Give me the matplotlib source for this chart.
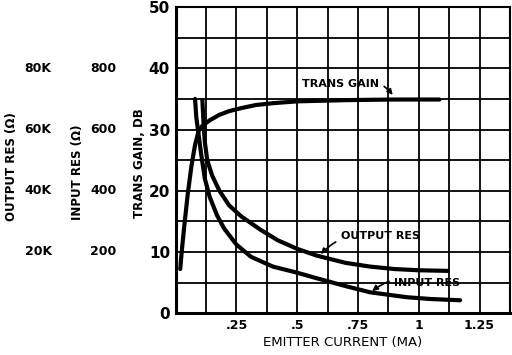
import matplotlib
matplotlib.use('Agg')
import matplotlib.pyplot as plt
import numpy as np

# values (emitter current in MA, plotted on the DB scale)
gain_x = [0.019, 0.025, 0.035, 0.05, 0.065, 0.08, 0.095, 0.11, 0.14, 0.18, 0.22, 0.27,
          0.33, 0.4, 0.5, 0.7, 0.9, 1.085]
gain_y = [7.2, 10, 14, 19.5, 24, 27.5, 29.8, 30.6, 31.5, 32.4, 33, 33.5,
          34, 34.3, 34.6, 34.8, 34.9, 34.9]

inres_x = [0.08, 0.085, 0.095, 0.105, 0.12, 0.14, 0.17, 0.2, 0.25, 0.31, 0.4, 0.5,
           0.58, 0.7, 0.8, 0.95, 1.05, 1.17]
inres_y = [35, 32, 29, 26, 22, 19, 16, 13.8, 11.2, 9.2, 7.6, 6.6,
           5.7, 4.4, 3.4, 2.6, 2.3, 2.1]

outres_x = [0.11, 0.115, 0.12, 0.13, 0.15, 0.18, 0.22, 0.27, 0.35, 0.42, 0.5, 0.58,
            0.7, 0.8, 0.9, 1.0, 1.12]
outres_y = [34.8, 31, 28, 25, 22.5, 20, 17.6, 15.8, 13.6, 11.9, 10.5, 9.4,
            8.2, 7.6, 7.2, 7.0, 6.9]

x_ticks = [0.25, 0.5, 0.75, 1.0, 1.25]
x_labels = ['.25', '.5', '.75', '1', '1.25']
y_ticks = [0, 10, 20, 30, 40, 50]
in_res_labels = ['200', '400', '600', '800']
out_res_labels = ['20K', '40K', '60K', '80K']

plt.rcParams['font.family'] = ['DejaVu Sans']
plt.rcParams['font.weight'] = 'bold'

fig = plt.figure(figsize=(5.12, 3.55), dpi=100)
ax = fig.add_axes([0.343, 0.118, 0.653, 0.862])

ax.set_xlim(0, 1.375)
ax.set_ylim(0, 50)
ax.set_xticks(np.arange(0, 1.376, 0.125), minor=True)
ax.set_yticks(np.arange(0, 51, 5), minor=True)
ax.set_xticks(x_ticks)
ax.set_xticklabels(x_labels, fontsize=9)
ax.set_yticks(y_ticks)
ax.set_yticklabels([str(v) for v in y_ticks], fontsize=11)
ax.grid(which='both', color='black', lw=1.3)
ax.set_axisbelow(True)
ax.tick_params(which='both', length=0, pad=4)
for s in ax.spines.values():
    s.set_linewidth(1.5)
ax.spines['left'].set_linewidth(2.2)
ax.spines['bottom'].set_linewidth(2.2)

ax.plot(gain_x, gain_y, color='black', lw=3, solid_capstyle='round', solid_joinstyle='round')
ax.plot(inres_x, inres_y, color='black', lw=3, solid_capstyle='round', solid_joinstyle='round')
ax.plot(outres_x, outres_y, color='black', lw=3, solid_capstyle='round', solid_joinstyle='round')

ax.set_xlabel('EMITTER CURRENT (MA)', fontsize=9.5, labelpad=3)
fig.text(0.273, 0.54, 'TRANS GAIN, DB', rotation=90, ha='center', va='center', fontsize=8.5)
fig.text(0.152, 0.515, 'INPUT RES (\u03a9)', rotation=90, ha='center', va='center', fontsize=8.5)
fig.text(0.023, 0.53, 'OUTPUT RES (\u03a9)', rotation=90, ha='center', va='center', fontsize=8.5)

# extra scale columns: offsets in points (1 pt = 1.39 px at 100 dpi)
for i, lab in enumerate(in_res_labels):
    ax.annotate(lab, xy=(0, 10 * (i + 1)), xycoords=('axes fraction', 'data'),
                xytext=(-52, 0), textcoords='offset points', ha='center', va='center', fontsize=9)
for i, lab in enumerate(out_res_labels):
    ax.annotate(lab, xy=(0, 10 * (i + 1)), xycoords=('axes fraction', 'data'),
                xytext=(-99, 0), textcoords='offset points', ha='center', va='center', fontsize=9)

ax.annotate('TRANS GAIN', xy=(0.9, 35.3), xytext=(0.52, 37.5), fontsize=8,
            va='center', ha='left',
            arrowprops=dict(arrowstyle='-|>', color='black', lw=1.2, connectionstyle='arc3,rad=-0.4'))
ax.annotate('OUTPUT RES', xy=(0.59, 9.3), xytext=(0.68, 12.6), fontsize=8,
            va='center', ha='left',
            arrowprops=dict(arrowstyle='-|>', color='black', lw=1.2, connectionstyle='arc3,rad=0.3'))
ax.annotate('INPUT RES', xy=(0.8, 3.3), xytext=(0.9, 5.0), fontsize=8,
            va='center', ha='left',
            arrowprops=dict(arrowstyle='-|>', color='black', lw=1.2, connectionstyle='arc3,rad=0.3'))

fig.savefig('out.png', dpi=100)
